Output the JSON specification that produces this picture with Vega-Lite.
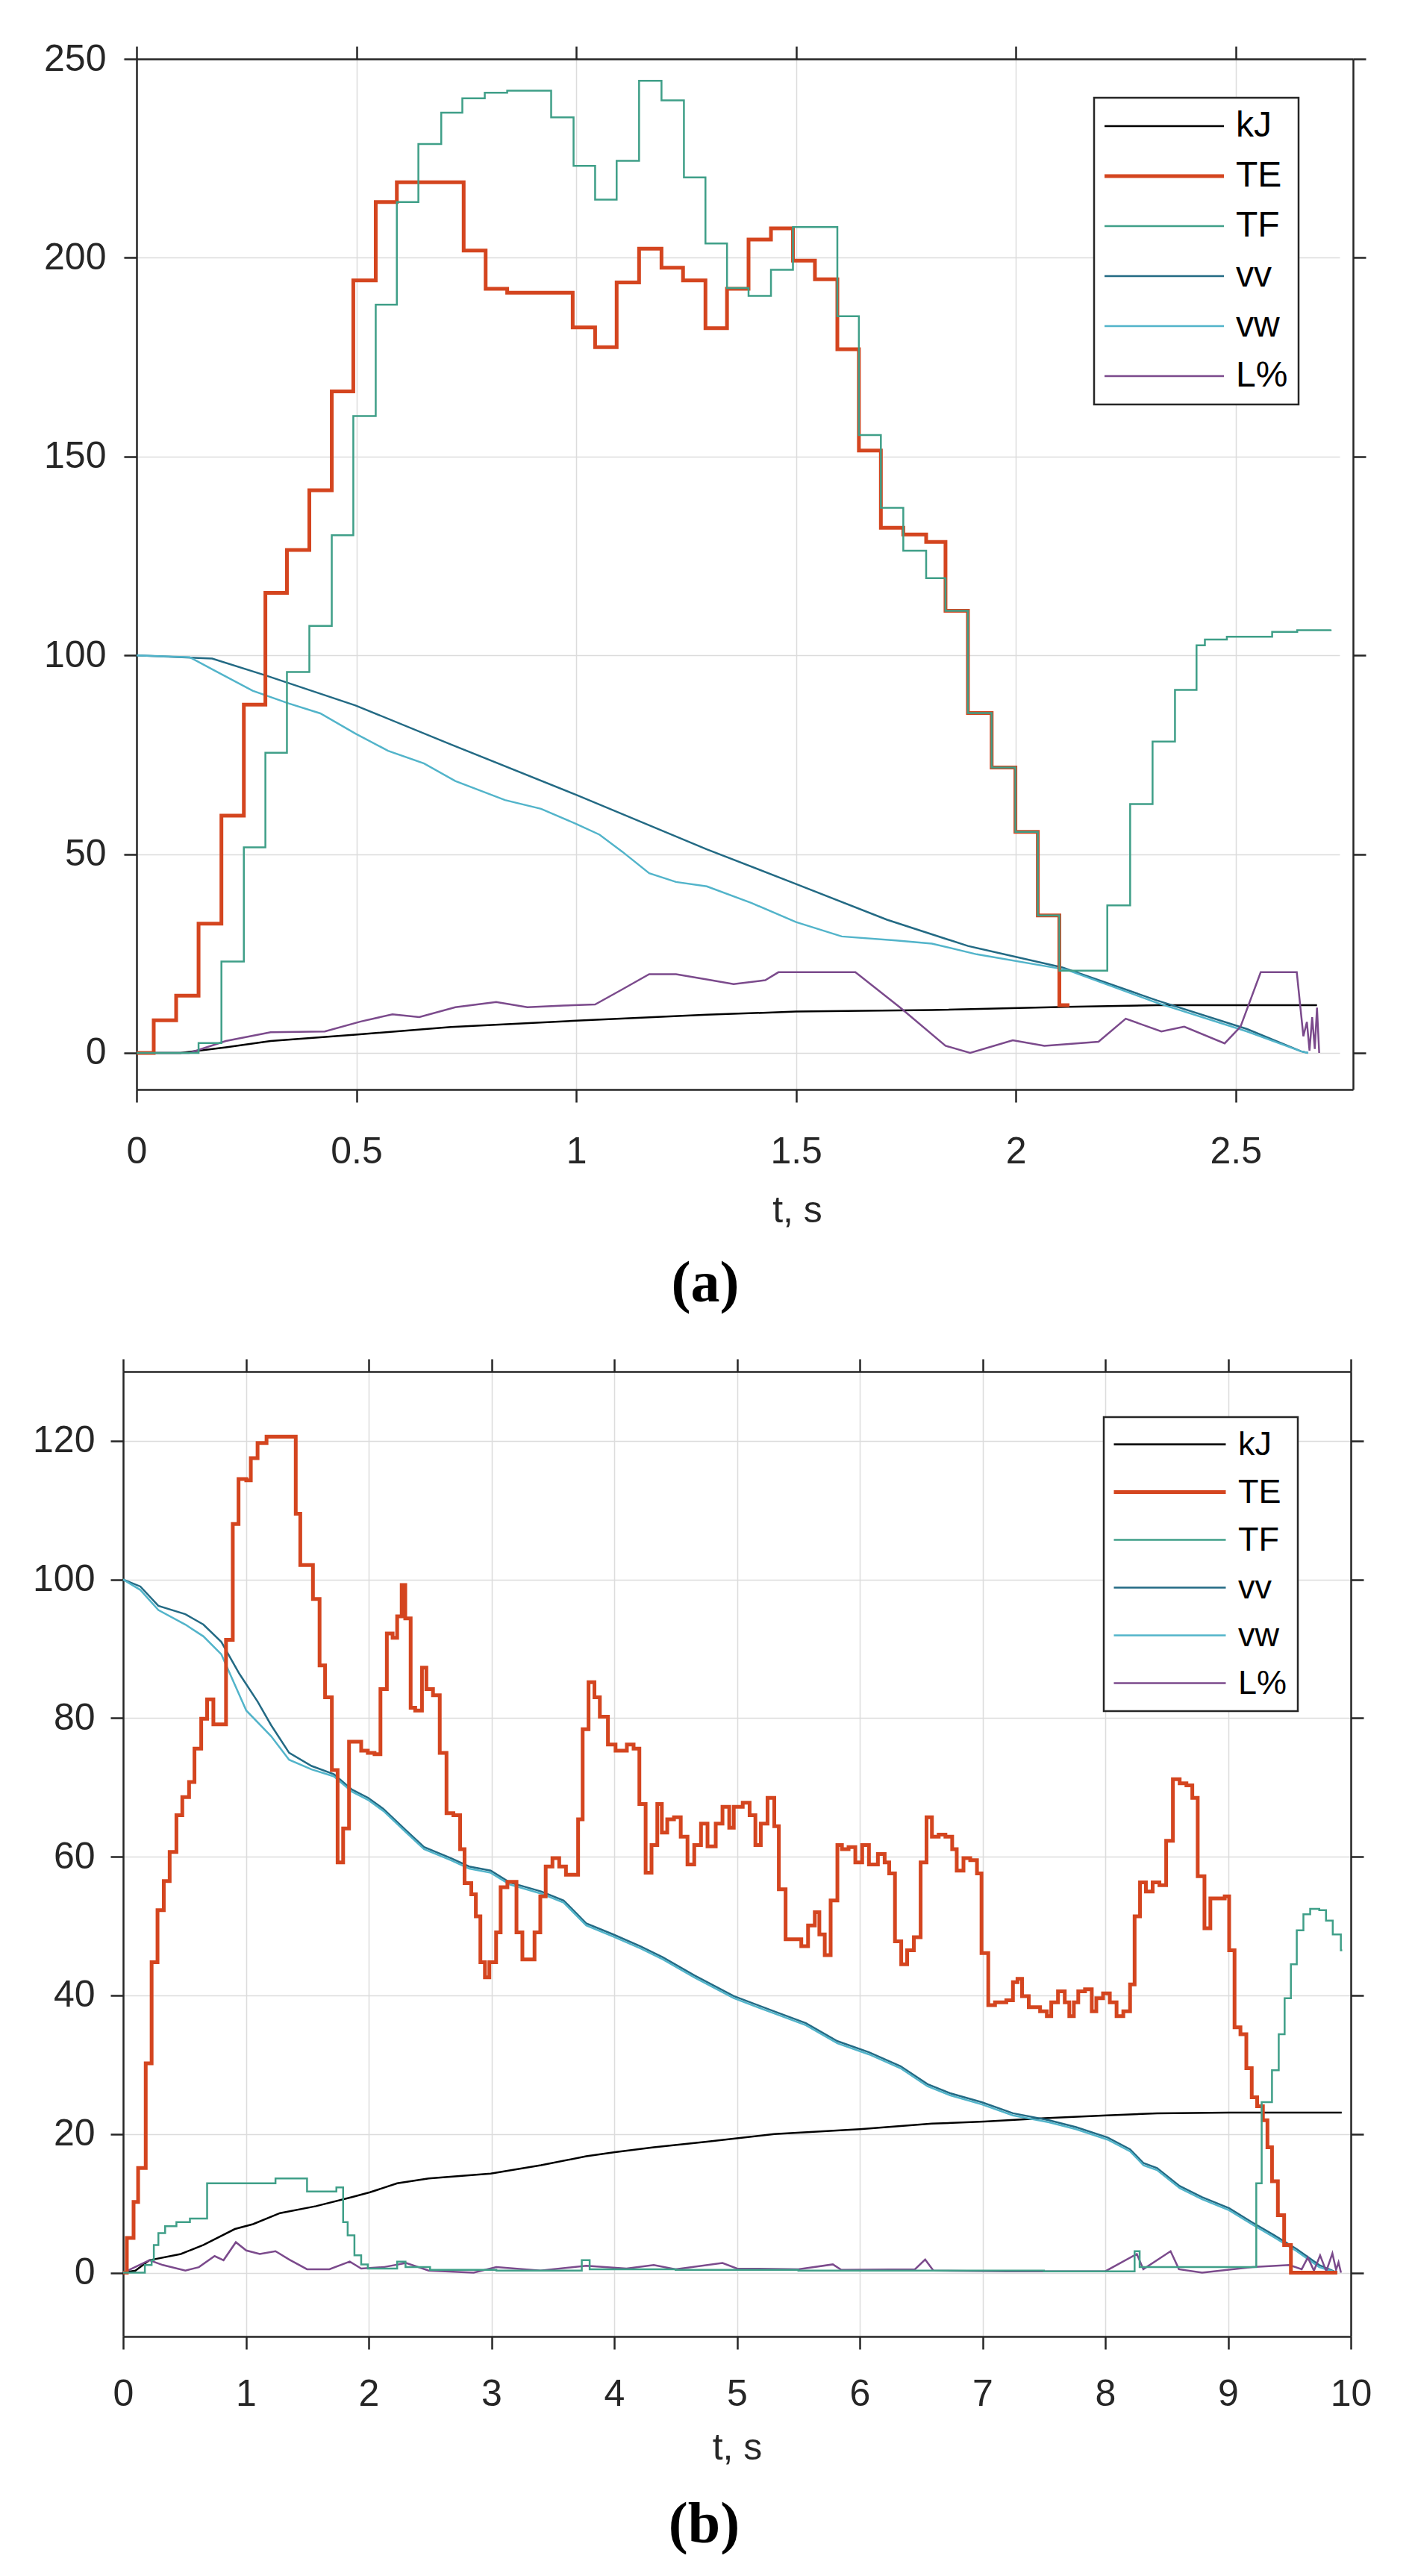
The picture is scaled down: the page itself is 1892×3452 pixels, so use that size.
{
  "$schema": "https://vega.github.io/schema/vega-lite/v6.json",
  "background": "white",
  "padding": {"left": 43, "top": 54, "right": 0, "bottom": 0},
  "spacing": 59,
  "datasets": {
    "a": [
      {"s": "kJ", "t": 0, "v": 0}, {"s": "kJ", "t": 0.1, "v": 0}, {"s": "kJ", "t": 0.203, "v": 1.4}, {"s": "kJ", "t": 0.305, "v": 3.0},
      {"s": "kJ", "t": 0.498, "v": 4.6}, {"s": "kJ", "t": 0.715, "v": 6.5}, {"s": "kJ", "t": 1.0, "v": 8.1}, {"s": "kJ", "t": 1.297, "v": 9.6},
      {"s": "kJ", "t": 1.5, "v": 10.4}, {"s": "kJ", "t": 1.809, "v": 10.8}, {"s": "kJ", "t": 2.116, "v": 11.6}, {"s": "kJ", "t": 2.321, "v": 12.0},
      {"s": "kJ", "t": 2.685, "v": 12.0},

      {"s": "TE", "t": 0, "v": 0}, {"s": "TE", "t": 0.039, "v": 8.2}, {"s": "TE", "t": 0.09, "v": 14.4}, {"s": "TE", "t": 0.141, "v": 32.5},
      {"s": "TE", "t": 0.193, "v": 59.7}, {"s": "TE", "t": 0.244, "v": 87.6}, {"s": "TE", "t": 0.293, "v": 115.7}, {"s": "TE", "t": 0.342, "v": 126.5},
      {"s": "TE", "t": 0.393, "v": 141.5}, {"s": "TE", "t": 0.444, "v": 166.4}, {"s": "TE", "t": 0.493, "v": 194.3}, {"s": "TE", "t": 0.544, "v": 214.0},
      {"s": "TE", "t": 0.592, "v": 219.0}, {"s": "TE", "t": 0.744, "v": 201.8}, {"s": "TE", "t": 0.794, "v": 192.2}, {"s": "TE", "t": 0.843, "v": 191.2},
      {"s": "TE", "t": 0.992, "v": 182.5}, {"s": "TE", "t": 1.043, "v": 177.5}, {"s": "TE", "t": 1.092, "v": 193.8}, {"s": "TE", "t": 1.143, "v": 202.3},
      {"s": "TE", "t": 1.194, "v": 197.5}, {"s": "TE", "t": 1.243, "v": 194.3}, {"s": "TE", "t": 1.294, "v": 182.3}, {"s": "TE", "t": 1.343, "v": 192.2},
      {"s": "TE", "t": 1.392, "v": 204.6}, {"s": "TE", "t": 1.443, "v": 207.4}, {"s": "TE", "t": 1.493, "v": 199.3}, {"s": "TE", "t": 1.543, "v": 194.6},
      {"s": "TE", "t": 1.594, "v": 177.0}, {"s": "TE", "t": 1.643, "v": 151.5}, {"s": "TE", "t": 1.693, "v": 132.1}, {"s": "TE", "t": 1.744, "v": 130.4},
      {"s": "TE", "t": 1.796, "v": 128.5}, {"s": "TE", "t": 1.84, "v": 111.2}, {"s": "TE", "t": 1.891, "v": 85.5}, {"s": "TE", "t": 1.945, "v": 71.8},
      {"s": "TE", "t": 1.999, "v": 55.6}, {"s": "TE", "t": 2.05, "v": 34.6}, {"s": "TE", "t": 2.099, "v": 12.0}, {"s": "TE", "t": 2.122, "v": 12.0},

      {"s": "TF", "t": 0, "v": 0}, {"s": "TF", "t": 0.141, "v": 2.5}, {"s": "TF", "t": 0.193, "v": 23.0}, {"s": "TF", "t": 0.244, "v": 51.7},
      {"s": "TF", "t": 0.293, "v": 75.5}, {"s": "TF", "t": 0.342, "v": 95.8}, {"s": "TF", "t": 0.393, "v": 107.4}, {"s": "TF", "t": 0.444, "v": 130.2},
      {"s": "TF", "t": 0.493, "v": 160.2}, {"s": "TF", "t": 0.544, "v": 188.2}, {"s": "TF", "t": 0.592, "v": 214.0}, {"s": "TF", "t": 0.641, "v": 228.6},
      {"s": "TF", "t": 0.693, "v": 236.5}, {"s": "TF", "t": 0.741, "v": 240.1}, {"s": "TF", "t": 0.792, "v": 241.5}, {"s": "TF", "t": 0.843, "v": 242.0},
      {"s": "TF", "t": 0.943, "v": 235.3}, {"s": "TF", "t": 0.994, "v": 223.1}, {"s": "TF", "t": 1.043, "v": 214.6}, {"s": "TF", "t": 1.092, "v": 224.4},
      {"s": "TF", "t": 1.143, "v": 244.5}, {"s": "TF", "t": 1.194, "v": 239.6}, {"s": "TF", "t": 1.245, "v": 220.2}, {"s": "TF", "t": 1.294, "v": 203.6},
      {"s": "TF", "t": 1.343, "v": 192.4}, {"s": "TF", "t": 1.392, "v": 190.4}, {"s": "TF", "t": 1.443, "v": 197.0}, {"s": "TF", "t": 1.493, "v": 207.7},
      {"s": "TF", "t": 1.594, "v": 185.3}, {"s": "TF", "t": 1.643, "v": 155.4}, {"s": "TF", "t": 1.693, "v": 137.1}, {"s": "TF", "t": 1.744, "v": 126.3},
      {"s": "TF", "t": 1.796, "v": 119.4}, {"s": "TF", "t": 1.84, "v": 111.2}, {"s": "TF", "t": 1.891, "v": 85.5}, {"s": "TF", "t": 1.945, "v": 71.8},
      {"s": "TF", "t": 1.999, "v": 55.6}, {"s": "TF", "t": 2.05, "v": 34.6}, {"s": "TF", "t": 2.099, "v": 20.7}, {"s": "TF", "t": 2.208, "v": 37.1},
      {"s": "TF", "t": 2.26, "v": 62.6}, {"s": "TF", "t": 2.311, "v": 78.3}, {"s": "TF", "t": 2.362, "v": 91.3}, {"s": "TF", "t": 2.411, "v": 102.5},
      {"s": "TF", "t": 2.43, "v": 104.0}, {"s": "TF", "t": 2.48, "v": 104.7}, {"s": "TF", "t": 2.583, "v": 105.9}, {"s": "TF", "t": 2.64, "v": 106.3},
      {"s": "TF", "t": 2.716, "v": 106.5},

      {"s": "vv", "t": 0, "v": 100}, {"s": "vv", "t": 0.172, "v": 99.2}, {"s": "vv", "t": 0.295, "v": 94.9}, {"s": "vv", "t": 0.498, "v": 87.4},
      {"s": "vv", "t": 0.715, "v": 77.6}, {"s": "vv", "t": 1.0, "v": 64.9}, {"s": "vv", "t": 1.297, "v": 51.2}, {"s": "vv", "t": 1.5, "v": 42.5},
      {"s": "vv", "t": 1.707, "v": 33.5}, {"s": "vv", "t": 1.891, "v": 26.9}, {"s": "vv", "t": 2.106, "v": 21.5}, {"s": "vv", "t": 2.321, "v": 13.2},
      {"s": "vv", "t": 2.526, "v": 6.0}, {"s": "vv", "t": 2.649, "v": 0.4}, {"s": "vv", "t": 2.665, "v": 0},

      {"s": "vw", "t": 0, "v": 100}, {"s": "vw", "t": 0.121, "v": 99.5}, {"s": "vw", "t": 0.172, "v": 96.5}, {"s": "vw", "t": 0.264, "v": 91.1},
      {"s": "vw", "t": 0.346, "v": 87.9}, {"s": "vw", "t": 0.418, "v": 85.4}, {"s": "vw", "t": 0.498, "v": 80.3}, {"s": "vw", "t": 0.572, "v": 76.0},
      {"s": "vw", "t": 0.654, "v": 72.8}, {"s": "vw", "t": 0.725, "v": 68.4}, {"s": "vw", "t": 0.838, "v": 63.6}, {"s": "vw", "t": 0.92, "v": 61.4},
      {"s": "vw", "t": 1.0, "v": 57.6}, {"s": "vw", "t": 1.053, "v": 54.9}, {"s": "vw", "t": 1.105, "v": 50.6}, {"s": "vw", "t": 1.166, "v": 45.2},
      {"s": "vw", "t": 1.227, "v": 43.0}, {"s": "vw", "t": 1.297, "v": 41.9}, {"s": "vw", "t": 1.399, "v": 37.7}, {"s": "vw", "t": 1.5, "v": 32.9},
      {"s": "vw", "t": 1.604, "v": 29.3}, {"s": "vw", "t": 1.727, "v": 28.3}, {"s": "vw", "t": 1.809, "v": 27.5}, {"s": "vw", "t": 1.911, "v": 24.8},
      {"s": "vw", "t": 2.116, "v": 20.9}, {"s": "vw", "t": 2.321, "v": 12.6}, {"s": "vw", "t": 2.526, "v": 5.4}, {"s": "vw", "t": 2.649, "v": 0.4},
      {"s": "vw", "t": 2.665, "v": 0},

      {"s": "L%", "t": 0, "v": 0}, {"s": "L%", "t": 0.12, "v": 0}, {"s": "L%", "t": 0.203, "v": 3.0}, {"s": "L%", "t": 0.305, "v": 5.2},
      {"s": "L%", "t": 0.428, "v": 5.4}, {"s": "L%", "t": 0.51, "v": 7.9}, {"s": "L%", "t": 0.582, "v": 9.7}, {"s": "L%", "t": 0.643, "v": 9.0},
      {"s": "L%", "t": 0.725, "v": 11.5}, {"s": "L%", "t": 0.818, "v": 12.8}, {"s": "L%", "t": 0.889, "v": 11.5}, {"s": "L%", "t": 0.971, "v": 11.9},
      {"s": "L%", "t": 1.043, "v": 12.2}, {"s": "L%", "t": 1.105, "v": 16.0}, {"s": "L%", "t": 1.166, "v": 19.8}, {"s": "L%", "t": 1.227, "v": 19.8},
      {"s": "L%", "t": 1.297, "v": 18.5}, {"s": "L%", "t": 1.358, "v": 17.3}, {"s": "L%", "t": 1.43, "v": 18.3}, {"s": "L%", "t": 1.46, "v": 20.3},
      {"s": "L%", "t": 1.635, "v": 20.3}, {"s": "L%", "t": 1.737, "v": 11.4}, {"s": "L%", "t": 1.84, "v": 1.8}, {"s": "L%", "t": 1.896, "v": 0},
      {"s": "L%", "t": 1.993, "v": 3.2}, {"s": "L%", "t": 2.065, "v": 1.8}, {"s": "L%", "t": 2.188, "v": 2.8}, {"s": "L%", "t": 2.25, "v": 8.6},
      {"s": "L%", "t": 2.331, "v": 5.4}, {"s": "L%", "t": 2.383, "v": 6.6}, {"s": "L%", "t": 2.475, "v": 2.4}, {"s": "L%", "t": 2.511, "v": 6.6},
      {"s": "L%", "t": 2.557, "v": 20.3}, {"s": "L%", "t": 2.639, "v": 20.3}, {"s": "L%", "t": 2.654, "v": 4.2}, {"s": "L%", "t": 2.662, "v": 7.8},
      {"s": "L%", "t": 2.668, "v": 0.6}, {"s": "L%", "t": 2.674, "v": 9.0}, {"s": "L%", "t": 2.68, "v": 1.0}, {"s": "L%", "t": 2.685, "v": 11.4},
      {"s": "L%", "t": 2.69, "v": 0}
    ],
    "b": [
      {"s": "kJ", "t": 0, "v": 0}, {"s": "kJ", "t": 0.1, "v": 0.3}, {"s": "kJ", "t": 0.214, "v": 1.8}, {"s": "kJ", "t": 0.47, "v": 2.7},
      {"s": "kJ", "t": 0.654, "v": 4.0}, {"s": "kJ", "t": 0.91, "v": 6.3}, {"s": "kJ", "t": 1.058, "v": 7.0}, {"s": "kJ", "t": 1.278, "v": 8.6},
      {"s": "kJ", "t": 1.571, "v": 9.6}, {"s": "kJ", "t": 1.864, "v": 10.9}, {"s": "kJ", "t": 2.011, "v": 11.6}, {"s": "kJ", "t": 2.232, "v": 12.9},
      {"s": "kJ", "t": 2.489, "v": 13.6}, {"s": "kJ", "t": 2.994, "v": 14.3}, {"s": "kJ", "t": 3.404, "v": 15.5}, {"s": "kJ", "t": 3.772, "v": 16.8},
      {"s": "kJ", "t": 4.007, "v": 17.4}, {"s": "kJ", "t": 4.322, "v": 18.1}, {"s": "kJ", "t": 4.755, "v": 18.9}, {"s": "kJ", "t": 5.304, "v": 20.0},
      {"s": "kJ", "t": 6.001, "v": 20.7}, {"s": "kJ", "t": 6.588, "v": 21.5}, {"s": "kJ", "t": 7.014, "v": 21.8}, {"s": "kJ", "t": 7.505, "v": 22.3},
      {"s": "kJ", "t": 8.011, "v": 22.7}, {"s": "kJ", "t": 8.422, "v": 23.0}, {"s": "kJ", "t": 9.009, "v": 23.1}, {"s": "kJ", "t": 9.926, "v": 23.1},

      {"s": "TE", "t": 0, "v": 0}, {"s": "TE", "t": 0.03, "v": 5.0}, {"s": "TE", "t": 0.085, "v": 10.2}, {"s": "TE", "t": 0.122, "v": 15.1},
      {"s": "TE", "t": 0.184, "v": 30.2}, {"s": "TE", "t": 0.232, "v": 44.8}, {"s": "TE", "t": 0.28, "v": 52.3}, {"s": "TE", "t": 0.331, "v": 56.5},
      {"s": "TE", "t": 0.379, "v": 60.7}, {"s": "TE", "t": 0.434, "v": 66.0}, {"s": "TE", "t": 0.482, "v": 68.6}, {"s": "TE", "t": 0.537, "v": 70.8},
      {"s": "TE", "t": 0.581, "v": 75.6}, {"s": "TE", "t": 0.636, "v": 79.9}, {"s": "TE", "t": 0.684, "v": 82.7}, {"s": "TE", "t": 0.735, "v": 79.1},
      {"s": "TE", "t": 0.838, "v": 91.3}, {"s": "TE", "t": 0.893, "v": 108.0}, {"s": "TE", "t": 0.94, "v": 114.5}, {"s": "TE", "t": 1.003, "v": 114.3},
      {"s": "TE", "t": 1.04, "v": 117.5}, {"s": "TE", "t": 1.095, "v": 119.7}, {"s": "TE", "t": 1.168, "v": 120.6}, {"s": "TE", "t": 1.406, "v": 109.5},
      {"s": "TE", "t": 1.443, "v": 102.1}, {"s": "TE", "t": 1.546, "v": 97.2}, {"s": "TE", "t": 1.6, "v": 87.6}, {"s": "TE", "t": 1.645, "v": 83.0},
      {"s": "TE", "t": 1.7, "v": 72.5}, {"s": "TE", "t": 1.747, "v": 59.2}, {"s": "TE", "t": 1.792, "v": 64.1}, {"s": "TE", "t": 1.84, "v": 76.6},
      {"s": "TE", "t": 1.939, "v": 75.3}, {"s": "TE", "t": 1.993, "v": 75.0}, {"s": "TE", "t": 2.048, "v": 74.8}, {"s": "TE", "t": 2.096, "v": 84.2},
      {"s": "TE", "t": 2.148, "v": 92.2}, {"s": "TE", "t": 2.195, "v": 91.6}, {"s": "TE", "t": 2.232, "v": 94.7}, {"s": "TE", "t": 2.269, "v": 99.2},
      {"s": "TE", "t": 2.298, "v": 94.4}, {"s": "TE", "t": 2.342, "v": 81.5}, {"s": "TE", "t": 2.379, "v": 81.1}, {"s": "TE", "t": 2.434, "v": 87.3},
      {"s": "TE", "t": 2.47, "v": 84.2}, {"s": "TE", "t": 2.524, "v": 83.3}, {"s": "TE", "t": 2.579, "v": 75.0}, {"s": "TE", "t": 2.634, "v": 66.3},
      {"s": "TE", "t": 2.69, "v": 66.0}, {"s": "TE", "t": 2.745, "v": 61.1}, {"s": "TE", "t": 2.781, "v": 56.2}, {"s": "TE", "t": 2.836, "v": 54.6},
      {"s": "TE", "t": 2.873, "v": 51.4}, {"s": "TE", "t": 2.91, "v": 44.8}, {"s": "TE", "t": 2.947, "v": 42.6}, {"s": "TE", "t": 2.983, "v": 44.8},
      {"s": "TE", "t": 3.038, "v": 49.1}, {"s": "TE", "t": 3.075, "v": 55.6}, {"s": "TE", "t": 3.13, "v": 56.4}, {"s": "TE", "t": 3.204, "v": 49.1},
      {"s": "TE", "t": 3.252, "v": 45.2}, {"s": "TE", "t": 3.351, "v": 49.1}, {"s": "TE", "t": 3.398, "v": 54.3}, {"s": "TE", "t": 3.442, "v": 58.6},
      {"s": "TE", "t": 3.497, "v": 59.8}, {"s": "TE", "t": 3.552, "v": 58.6}, {"s": "TE", "t": 3.607, "v": 57.4}, {"s": "TE", "t": 3.706, "v": 65.4},
      {"s": "TE", "t": 3.743, "v": 78.4}, {"s": "TE", "t": 3.791, "v": 85.2}, {"s": "TE", "t": 3.839, "v": 83.0}, {"s": "TE", "t": 3.883, "v": 80.2},
      {"s": "TE", "t": 3.949, "v": 76.2}, {"s": "TE", "t": 4.011, "v": 75.3}, {"s": "TE", "t": 4.103, "v": 76.2}, {"s": "TE", "t": 4.158, "v": 75.6},
      {"s": "TE", "t": 4.205, "v": 67.6}, {"s": "TE", "t": 4.256, "v": 57.7}, {"s": "TE", "t": 4.304, "v": 61.7}, {"s": "TE", "t": 4.351, "v": 67.6},
      {"s": "TE", "t": 4.388, "v": 63.5}, {"s": "TE", "t": 4.432, "v": 65.4}, {"s": "TE", "t": 4.487, "v": 65.7}, {"s": "TE", "t": 4.542, "v": 62.9},
      {"s": "TE", "t": 4.597, "v": 58.9}, {"s": "TE", "t": 4.652, "v": 61.7}, {"s": "TE", "t": 4.707, "v": 64.8}, {"s": "TE", "t": 4.76, "v": 61.5},
      {"s": "TE", "t": 4.827, "v": 64.8}, {"s": "TE", "t": 4.882, "v": 67.2}, {"s": "TE", "t": 4.937, "v": 64.2}, {"s": "TE", "t": 4.974, "v": 67.2},
      {"s": "TE", "t": 5.047, "v": 67.8}, {"s": "TE", "t": 5.103, "v": 66.0}, {"s": "TE", "t": 5.15, "v": 61.7}, {"s": "TE", "t": 5.194, "v": 64.8},
      {"s": "TE", "t": 5.249, "v": 68.5}, {"s": "TE", "t": 5.304, "v": 64.4}, {"s": "TE", "t": 5.341, "v": 55.3}, {"s": "TE", "t": 5.396, "v": 48.1},
      {"s": "TE", "t": 5.524, "v": 47.1}, {"s": "TE", "t": 5.579, "v": 50.1}, {"s": "TE", "t": 5.634, "v": 52.0}, {"s": "TE", "t": 5.671, "v": 48.8},
      {"s": "TE", "t": 5.715, "v": 45.8}, {"s": "TE", "t": 5.763, "v": 53.7}, {"s": "TE", "t": 5.818, "v": 61.7}, {"s": "TE", "t": 5.855, "v": 61.1},
      {"s": "TE", "t": 5.909, "v": 61.4}, {"s": "TE", "t": 5.964, "v": 59.2}, {"s": "TE", "t": 6.02, "v": 61.7}, {"s": "TE", "t": 6.075, "v": 58.9},
      {"s": "TE", "t": 6.148, "v": 60.4}, {"s": "TE", "t": 6.203, "v": 59.2}, {"s": "TE", "t": 6.24, "v": 57.6}, {"s": "TE", "t": 6.287, "v": 47.8},
      {"s": "TE", "t": 6.338, "v": 44.5}, {"s": "TE", "t": 6.386, "v": 46.5}, {"s": "TE", "t": 6.441, "v": 48.4}, {"s": "TE", "t": 6.496, "v": 59.2},
      {"s": "TE", "t": 6.544, "v": 65.7}, {"s": "TE", "t": 6.588, "v": 62.9}, {"s": "TE", "t": 6.643, "v": 63.2}, {"s": "TE", "t": 6.698, "v": 62.9},
      {"s": "TE", "t": 6.753, "v": 61.1}, {"s": "TE", "t": 6.79, "v": 58.0}, {"s": "TE", "t": 6.845, "v": 59.8}, {"s": "TE", "t": 6.9, "v": 59.5},
      {"s": "TE", "t": 6.955, "v": 57.6}, {"s": "TE", "t": 6.992, "v": 46.1}, {"s": "TE", "t": 7.047, "v": 38.6}, {"s": "TE", "t": 7.102, "v": 39.0},
      {"s": "TE", "t": 7.194, "v": 39.3}, {"s": "TE", "t": 7.248, "v": 41.9}, {"s": "TE", "t": 7.285, "v": 42.4}, {"s": "TE", "t": 7.322, "v": 39.9},
      {"s": "TE", "t": 7.377, "v": 38.3}, {"s": "TE", "t": 7.469, "v": 37.7}, {"s": "TE", "t": 7.524, "v": 37.0}, {"s": "TE", "t": 7.56, "v": 39.0},
      {"s": "TE", "t": 7.615, "v": 40.6}, {"s": "TE", "t": 7.67, "v": 39.0}, {"s": "TE", "t": 7.707, "v": 37.0}, {"s": "TE", "t": 7.744, "v": 39.0},
      {"s": "TE", "t": 7.78, "v": 40.6}, {"s": "TE", "t": 7.835, "v": 40.9}, {"s": "TE", "t": 7.89, "v": 37.7}, {"s": "TE", "t": 7.927, "v": 39.6},
      {"s": "TE", "t": 7.982, "v": 40.3}, {"s": "TE", "t": 8.037, "v": 39.0}, {"s": "TE", "t": 8.092, "v": 37.0}, {"s": "TE", "t": 8.147, "v": 37.7},
      {"s": "TE", "t": 8.202, "v": 41.6}, {"s": "TE", "t": 8.239, "v": 51.4}, {"s": "TE", "t": 8.283, "v": 56.3}, {"s": "TE", "t": 8.331, "v": 55.0},
      {"s": "TE", "t": 8.386, "v": 56.3}, {"s": "TE", "t": 8.441, "v": 55.9}, {"s": "TE", "t": 8.496, "v": 62.3}, {"s": "TE", "t": 8.551, "v": 71.2},
      {"s": "TE", "t": 8.606, "v": 70.6}, {"s": "TE", "t": 8.661, "v": 70.3}, {"s": "TE", "t": 8.709, "v": 68.5}, {"s": "TE", "t": 8.753, "v": 57.2},
      {"s": "TE", "t": 8.808, "v": 49.7}, {"s": "TE", "t": 8.856, "v": 54.0}, {"s": "TE", "t": 8.973, "v": 54.3}, {"s": "TE", "t": 9.009, "v": 46.5},
      {"s": "TE", "t": 9.053, "v": 35.4}, {"s": "TE", "t": 9.101, "v": 34.4}, {"s": "TE", "t": 9.149, "v": 29.5}, {"s": "TE", "t": 9.193, "v": 25.3},
      {"s": "TE", "t": 9.237, "v": 24.0}, {"s": "TE", "t": 9.284, "v": 22.0}, {"s": "TE", "t": 9.321, "v": 18.1}, {"s": "TE", "t": 9.358, "v": 13.2},
      {"s": "TE", "t": 9.406, "v": 8.3}, {"s": "TE", "t": 9.457, "v": 4.0}, {"s": "TE", "t": 9.512, "v": 0}, {"s": "TE", "t": 9.89, "v": 0},

      {"s": "TF", "t": 0, "v": 0}, {"s": "TF", "t": 0.177, "v": 1.1}, {"s": "TF", "t": 0.232, "v": 1.8}, {"s": "TF", "t": 0.25, "v": 4.0},
      {"s": "TF", "t": 0.287, "v": 5.7}, {"s": "TF", "t": 0.342, "v": 6.7}, {"s": "TF", "t": 0.434, "v": 7.3}, {"s": "TF", "t": 0.544, "v": 7.8},
      {"s": "TF", "t": 0.684, "v": 12.9}, {"s": "TF", "t": 1.241, "v": 13.6}, {"s": "TF", "t": 1.498, "v": 11.7}, {"s": "TF", "t": 1.737, "v": 12.3},
      {"s": "TF", "t": 1.792, "v": 7.3}, {"s": "TF", "t": 1.829, "v": 5.4}, {"s": "TF", "t": 1.884, "v": 2.5}, {"s": "TF", "t": 1.939, "v": 1.2},
      {"s": "TF", "t": 1.993, "v": 0.6}, {"s": "TF", "t": 2.232, "v": 1.6}, {"s": "TF", "t": 2.3, "v": 0.8}, {"s": "TF", "t": 2.5, "v": 0.4},
      {"s": "TF", "t": 3.04, "v": 0.3}, {"s": "TF", "t": 3.736, "v": 1.8}, {"s": "TF", "t": 3.8, "v": 0.5}, {"s": "TF", "t": 4.5, "v": 0.4},
      {"s": "TF", "t": 5.5, "v": 0.3}, {"s": "TF", "t": 6.5, "v": 0.3}, {"s": "TF", "t": 7.5, "v": 0.2}, {"s": "TF", "t": 8.239, "v": 3.1},
      {"s": "TF", "t": 8.28, "v": 0.8}, {"s": "TF", "t": 9.23, "v": 12.9}, {"s": "TF", "t": 9.274, "v": 24.6}, {"s": "TF", "t": 9.358, "v": 29.2},
      {"s": "TF", "t": 9.413, "v": 34.4}, {"s": "TF", "t": 9.461, "v": 39.6}, {"s": "TF", "t": 9.512, "v": 44.5}, {"s": "TF", "t": 9.56, "v": 49.4},
      {"s": "TF", "t": 9.614, "v": 51.7}, {"s": "TF", "t": 9.669, "v": 52.5}, {"s": "TF", "t": 9.743, "v": 52.3}, {"s": "TF", "t": 9.798, "v": 50.8},
      {"s": "TF", "t": 9.853, "v": 48.8}, {"s": "TF", "t": 9.919, "v": 46.5}, {"s": "TF", "t": 9.93, "v": 46.5},

      {"s": "vv", "t": 0, "v": 100}, {"s": "vv", "t": 0.14, "v": 99.0}, {"s": "vv", "t": 0.287, "v": 96.2}, {"s": "vv", "t": 0.507, "v": 95.0},
      {"s": "vv", "t": 0.654, "v": 93.5}, {"s": "vv", "t": 0.8, "v": 91.0}, {"s": "vv", "t": 0.947, "v": 86.4}, {"s": "vv", "t": 1.095, "v": 82.4},
      {"s": "vv", "t": 1.205, "v": 79.0}, {"s": "vv", "t": 1.352, "v": 75.0}, {"s": "vv", "t": 1.535, "v": 73.1}, {"s": "vv", "t": 1.717, "v": 71.9},
      {"s": "vv", "t": 1.864, "v": 69.7}, {"s": "vv", "t": 1.996, "v": 68.5}, {"s": "vv", "t": 2.121, "v": 66.9}, {"s": "vv", "t": 2.305, "v": 63.8},
      {"s": "vv", "t": 2.451, "v": 61.4}, {"s": "vv", "t": 2.671, "v": 59.8}, {"s": "vv", "t": 2.818, "v": 58.6}, {"s": "vv", "t": 2.994, "v": 58.0},
      {"s": "vv", "t": 3.149, "v": 56.3}, {"s": "vv", "t": 3.404, "v": 55.0}, {"s": "vv", "t": 3.588, "v": 53.7}, {"s": "vv", "t": 3.772, "v": 50.4},
      {"s": "vv", "t": 3.992, "v": 48.8}, {"s": "vv", "t": 4.213, "v": 47.1}, {"s": "vv", "t": 4.396, "v": 45.5}, {"s": "vv", "t": 4.653, "v": 42.9},
      {"s": "vv", "t": 4.974, "v": 39.9}, {"s": "vv", "t": 5.304, "v": 37.7}, {"s": "vv", "t": 5.561, "v": 36.0}, {"s": "vv", "t": 5.818, "v": 33.4},
      {"s": "vv", "t": 6.075, "v": 31.8}, {"s": "vv", "t": 6.332, "v": 29.8}, {"s": "vv", "t": 6.552, "v": 27.2}, {"s": "vv", "t": 6.735, "v": 25.9},
      {"s": "vv", "t": 6.992, "v": 24.6}, {"s": "vv", "t": 7.248, "v": 23.0}, {"s": "vv", "t": 7.542, "v": 22.0}, {"s": "vv", "t": 7.762, "v": 21.0},
      {"s": "vv", "t": 8.019, "v": 19.5}, {"s": "vv", "t": 8.202, "v": 17.8}, {"s": "vv", "t": 8.312, "v": 15.8}, {"s": "vv", "t": 8.422, "v": 15.1},
      {"s": "vv", "t": 8.606, "v": 12.5}, {"s": "vv", "t": 8.789, "v": 10.9}, {"s": "vv", "t": 9.009, "v": 9.3}, {"s": "vv", "t": 9.193, "v": 7.3},
      {"s": "vv", "t": 9.376, "v": 5.4}, {"s": "vv", "t": 9.56, "v": 3.4}, {"s": "vv", "t": 9.743, "v": 1.1}, {"s": "vv", "t": 9.89, "v": 0},

      {"s": "vw", "t": 0, "v": 100}, {"s": "vw", "t": 0.14, "v": 98.5}, {"s": "vw", "t": 0.287, "v": 95.6}, {"s": "vw", "t": 0.507, "v": 93.5},
      {"s": "vw", "t": 0.654, "v": 91.8}, {"s": "vw", "t": 0.8, "v": 89.2}, {"s": "vw", "t": 1.003, "v": 81.1}, {"s": "vw", "t": 1.205, "v": 77.4},
      {"s": "vw", "t": 1.352, "v": 74.0}, {"s": "vw", "t": 1.535, "v": 72.6}, {"s": "vw", "t": 1.717, "v": 71.6}, {"s": "vw", "t": 1.864, "v": 69.4},
      {"s": "vw", "t": 1.996, "v": 68.2}, {"s": "vw", "t": 2.121, "v": 66.6}, {"s": "vw", "t": 2.305, "v": 63.5}, {"s": "vw", "t": 2.451, "v": 61.1},
      {"s": "vw", "t": 2.671, "v": 59.5}, {"s": "vw", "t": 2.818, "v": 58.3}, {"s": "vw", "t": 2.994, "v": 57.7}, {"s": "vw", "t": 3.149, "v": 56.0},
      {"s": "vw", "t": 3.404, "v": 54.7}, {"s": "vw", "t": 3.588, "v": 53.4}, {"s": "vw", "t": 3.772, "v": 50.1}, {"s": "vw", "t": 3.992, "v": 48.5},
      {"s": "vw", "t": 4.213, "v": 46.8}, {"s": "vw", "t": 4.396, "v": 45.2}, {"s": "vw", "t": 4.653, "v": 42.6}, {"s": "vw", "t": 4.974, "v": 39.6},
      {"s": "vw", "t": 5.304, "v": 37.4}, {"s": "vw", "t": 5.561, "v": 35.7}, {"s": "vw", "t": 5.818, "v": 33.1}, {"s": "vw", "t": 6.075, "v": 31.5},
      {"s": "vw", "t": 6.332, "v": 29.5}, {"s": "vw", "t": 6.552, "v": 26.9}, {"s": "vw", "t": 6.735, "v": 25.6}, {"s": "vw", "t": 6.992, "v": 24.3},
      {"s": "vw", "t": 7.248, "v": 22.7}, {"s": "vw", "t": 7.542, "v": 21.7}, {"s": "vw", "t": 7.762, "v": 20.7}, {"s": "vw", "t": 8.019, "v": 19.2},
      {"s": "vw", "t": 8.202, "v": 17.5}, {"s": "vw", "t": 8.312, "v": 15.5}, {"s": "vw", "t": 8.422, "v": 14.8}, {"s": "vw", "t": 8.606, "v": 12.2},
      {"s": "vw", "t": 8.789, "v": 10.6}, {"s": "vw", "t": 9.009, "v": 9.0}, {"s": "vw", "t": 9.193, "v": 7.0}, {"s": "vw", "t": 9.376, "v": 5.1},
      {"s": "vw", "t": 9.56, "v": 3.1}, {"s": "vw", "t": 9.743, "v": 0.8}, {"s": "vw", "t": 9.89, "v": 0},

      {"s": "L%", "t": 0, "v": 0}, {"s": "L%", "t": 0.214, "v": 1.8}, {"s": "L%", "t": 0.324, "v": 1.1}, {"s": "L%", "t": 0.507, "v": 0.3},
      {"s": "L%", "t": 0.617, "v": 0.8}, {"s": "L%", "t": 0.745, "v": 2.4}, {"s": "L%", "t": 0.818, "v": 1.8}, {"s": "L%", "t": 0.918, "v": 4.4},
      {"s": "L%", "t": 1.003, "v": 3.2}, {"s": "L%", "t": 1.113, "v": 2.7}, {"s": "L%", "t": 1.241, "v": 3.1}, {"s": "L%", "t": 1.352, "v": 1.9},
      {"s": "L%", "t": 1.498, "v": 0.5}, {"s": "L%", "t": 1.68, "v": 0.5}, {"s": "L%", "t": 1.846, "v": 1.6}, {"s": "L%", "t": 1.939, "v": 0.6},
      {"s": "L%", "t": 2.121, "v": 0.8}, {"s": "L%", "t": 2.305, "v": 1.4}, {"s": "L%", "t": 2.489, "v": 0.3}, {"s": "L%", "t": 2.855, "v": 0},
      {"s": "L%", "t": 3.04, "v": 0.8}, {"s": "L%", "t": 3.4, "v": 0.3}, {"s": "L%", "t": 3.772, "v": 1.0}, {"s": "L%", "t": 4.1, "v": 0.6},
      {"s": "L%", "t": 4.322, "v": 1.1}, {"s": "L%", "t": 4.5, "v": 0.5}, {"s": "L%", "t": 4.882, "v": 1.4}, {"s": "L%", "t": 5.0, "v": 0.6},
      {"s": "L%", "t": 5.5, "v": 0.5}, {"s": "L%", "t": 5.781, "v": 1.2}, {"s": "L%", "t": 5.85, "v": 0.4}, {"s": "L%", "t": 6.45, "v": 0.5},
      {"s": "L%", "t": 6.533, "v": 1.9}, {"s": "L%", "t": 6.6, "v": 0.3}, {"s": "L%", "t": 7.2, "v": 0.2}, {"s": "L%", "t": 8.0, "v": 0.2},
      {"s": "L%", "t": 8.257, "v": 2.7}, {"s": "L%", "t": 8.31, "v": 0.5}, {"s": "L%", "t": 8.532, "v": 3.1}, {"s": "L%", "t": 8.6, "v": 0.5},
      {"s": "L%", "t": 8.789, "v": 0}, {"s": "L%", "t": 9.2, "v": 0.8}, {"s": "L%", "t": 9.5, "v": 1.1}, {"s": "L%", "t": 9.6, "v": 0.5},
      {"s": "L%", "t": 9.65, "v": 2.2}, {"s": "L%", "t": 9.7, "v": 0.3}, {"s": "L%", "t": 9.75, "v": 2.5}, {"s": "L%", "t": 9.8, "v": 0.2},
      {"s": "L%", "t": 9.85, "v": 2.8}, {"s": "L%", "t": 9.88, "v": 0.4}, {"s": "L%", "t": 9.9, "v": 1.5}, {"s": "L%", "t": 9.92, "v": 0}
    ]
  },
  "vconcat": [
    {
      "width": 1648,
      "height": 1381,
      "title": {"text": "(a)", "orient": "bottom", "frame": "group", "anchor": "middle", "offset": 35, "dx": -44},
      "data": {"name": "a"},
      "layer": [
        {
          "transform": [{"filter": "datum.s != 'TE' && datum.s != 'TF'"}],
          "mark": {"type": "line", "interpolate": "linear"},
          "encoding": {
            "x": {"field": "t", "type": "quantitative", "scale": {"domain": [0, 2.767], "range": [18, 1648], "nice": false, "zero": false},
                  "axis": {"orient": "bottom", "values": [0, 0.5, 1, 1.5, 2, 2.5], "format": "~r", "labelFlush": false, "labelPadding": 41,
                           "title": "t, s", "titlePadding": 29, "titleX": 903, "grid": true}},
            "y": {"field": "v", "type": "quantitative", "scale": {"domain": [-9.2, 250], "nice": false, "zero": false},
                  "axis": {"orient": "left", "offset": -18, "values": [0, 50, 100, 150, 200, 250], "labelPadding": 24, "title": null, "grid": false}},
            "color": {"field": "s", "type": "nominal",
                      "scale": {"domain": ["kJ", "TE", "TF", "vv", "vw", "L%"], "range": ["#000000", "#d4451f", "#3f9f88", "#236a84", "#52b4ca", "#7b4a8c"]},
                      "legend": {"orient": "none", "legendX": 1301, "legendY": 52, "labelFontSize": 48, "rowPadding": 19,
                                 "symbolSize": 1600, "symbolOffset": 56, "labelOffset": 72,
                                 "encode": {"symbols": {"update": {"strokeWidth": {"signal": "datum.label == 'TE' ? 5 : 2.5"}}}}}},
            "strokeWidth": {"condition": {"test": "datum.s == 'TE'", "value": 5}, "value": 2.5}
          }
        },
        {
          "transform": [{"filter": "datum.s == 'TE' || datum.s == 'TF'"}],
          "mark": {"type": "line", "interpolate": "step-after"},
          "encoding": {
            "x": {"field": "t", "type": "quantitative", "scale": {"domain": [0, 2.767], "range": [18, 1648], "nice": false, "zero": false},
                  "axis": {"orient": "top", "values": [0, 0.5, 1, 1.5, 2, 2.5], "labels": false, "title": null, "grid": false}},
            "y": {"field": "v", "type": "quantitative", "scale": {"domain": [-9.2, 250], "nice": false, "zero": false},
                  "axis": {"orient": "right", "values": [0, 50, 100, 150, 200, 250], "labels": false, "title": null, "grid": true}},
            "color": {"field": "s", "type": "nominal",
                      "scale": {"domain": ["kJ", "TE", "TF", "vv", "vw", "L%"], "range": ["#000000", "#d4451f", "#3f9f88", "#236a84", "#52b4ca", "#7b4a8c"]},
                      "legend": {"orient": "none", "legendX": 1301, "legendY": 52, "labelFontSize": 48, "rowPadding": 19,
                                 "symbolSize": 1600, "symbolOffset": 56, "labelOffset": 72,
                                 "encode": {"symbols": {"update": {"strokeWidth": {"signal": "datum.label == 'TE' ? 5 : 2.5"}}}}}},
            "strokeWidth": {"condition": {"test": "datum.s == 'TE'", "value": 5}, "value": 2.5}
          }
        }
      ],
      "resolve": {"axis": {"x": "independent", "y": "independent"}}
    },
    {
      "width": 1645,
      "height": 1293,
      "title": {"text": "(b)", "orient": "bottom", "frame": "group", "anchor": "middle", "offset": 40, "dx": -44},
      "data": {"name": "b"},
      "layer": [
        {
          "transform": [{"filter": "datum.s != 'TE' && datum.s != 'TF'"}],
          "mark": {"type": "line", "interpolate": "linear"},
          "encoding": {
            "x": {"field": "t", "type": "quantitative", "scale": {"domain": [0, 10], "nice": false, "zero": false},
                  "axis": {"orient": "bottom", "values": [0, 1, 2, 3, 4, 5, 6, 7, 8, 9, 10], "format": "~r", "labelFlush": false, "labelPadding": 35,
                           "title": "t, s", "titlePadding": 22, "grid": true}},
            "y": {"field": "v", "type": "quantitative", "scale": {"domain": [-9.2, 130], "nice": false, "zero": false},
                  "axis": {"orient": "left", "values": [0, 20, 40, 60, 80, 100, 120], "labelPadding": 21, "title": null, "grid": true}},
            "color": {"field": "s", "type": "nominal",
                      "scale": {"domain": ["kJ", "TE", "TF", "vv", "vw", "L%"], "range": ["#000000", "#d4451f", "#3f9f88", "#236a84", "#52b4ca", "#7b4a8c"]},
                      "legend": {"orient": "none", "legendX": 1314, "legendY": 61, "labelFontSize": 45, "rowPadding": 18,
                                 "symbolSize": 1406, "symbolOffset": 52, "labelOffset": 69,
                                 "encode": {"symbols": {"update": {"strokeWidth": {"signal": "datum.label == 'TE' ? 5 : 2.5"}}}}}},
            "strokeWidth": {"condition": {"test": "datum.s == 'TE'", "value": 5}, "value": 2.5}
          }
        },
        {
          "transform": [{"filter": "datum.s == 'TE' || datum.s == 'TF'"}],
          "mark": {"type": "line", "interpolate": "step-after"},
          "encoding": {
            "x": {"field": "t", "type": "quantitative", "scale": {"domain": [0, 10], "nice": false, "zero": false},
                  "axis": {"orient": "top", "values": [0, 1, 2, 3, 4, 5, 6, 7, 8, 9, 10], "labels": false, "title": null, "grid": false}},
            "y": {"field": "v", "type": "quantitative", "scale": {"domain": [-9.2, 130], "nice": false, "zero": false},
                  "axis": {"orient": "right", "values": [0, 20, 40, 60, 80, 100, 120], "labels": false, "title": null, "grid": false}},
            "color": {"field": "s", "type": "nominal",
                      "scale": {"domain": ["kJ", "TE", "TF", "vv", "vw", "L%"], "range": ["#000000", "#d4451f", "#3f9f88", "#236a84", "#52b4ca", "#7b4a8c"]},
                      "legend": {"orient": "none", "legendX": 1314, "legendY": 61, "labelFontSize": 45, "rowPadding": 18,
                                 "symbolSize": 1406, "symbolOffset": 52, "labelOffset": 69,
                                 "encode": {"symbols": {"update": {"strokeWidth": {"signal": "datum.label == 'TE' ? 5 : 2.5"}}}}}},
            "strokeWidth": {"condition": {"test": "datum.s == 'TE'", "value": 5}, "value": 2.5}
          }
        }
      ],
      "resolve": {"axis": {"x": "independent", "y": "independent"}}
    }
  ],
  "resolve": {"scale": {"color": "independent"}, "legend": {"color": "independent"}},
  "config": {
    "view": {"stroke": null},
    "font": "Liberation Sans",
    "axis": {
      "domainColor": "#262626", "domainWidth": 2.5, "tickColor": "#262626", "tickWidth": 2.5, "tickSize": 17,
      "labelFont": "Liberation Sans", "labelFontSize": 50, "labelColor": "#262626",
      "gridColor": "#dcdcdc", "gridWidth": 1.5,
      "titleFont": "Liberation Sans", "titleFontSize": 50, "titleFontWeight": "normal", "titleColor": "#262626"
    },
    "legend": {
      "title": null, "symbolType": "M-4,0L4,0", "symbolStrokeWidth": 2.5,
      "labelFont": "Liberation Sans", "labelColor": "#000000", "padding": 14,
      "strokeColor": "#262626", "strokeWidth": 2.5, "fillColor": "white",
      "labelLimit": 300
    },
    "title": {"font": "Liberation Serif", "fontSize": 78, "fontWeight": "bold", "color": "#000000"}
  }
}
